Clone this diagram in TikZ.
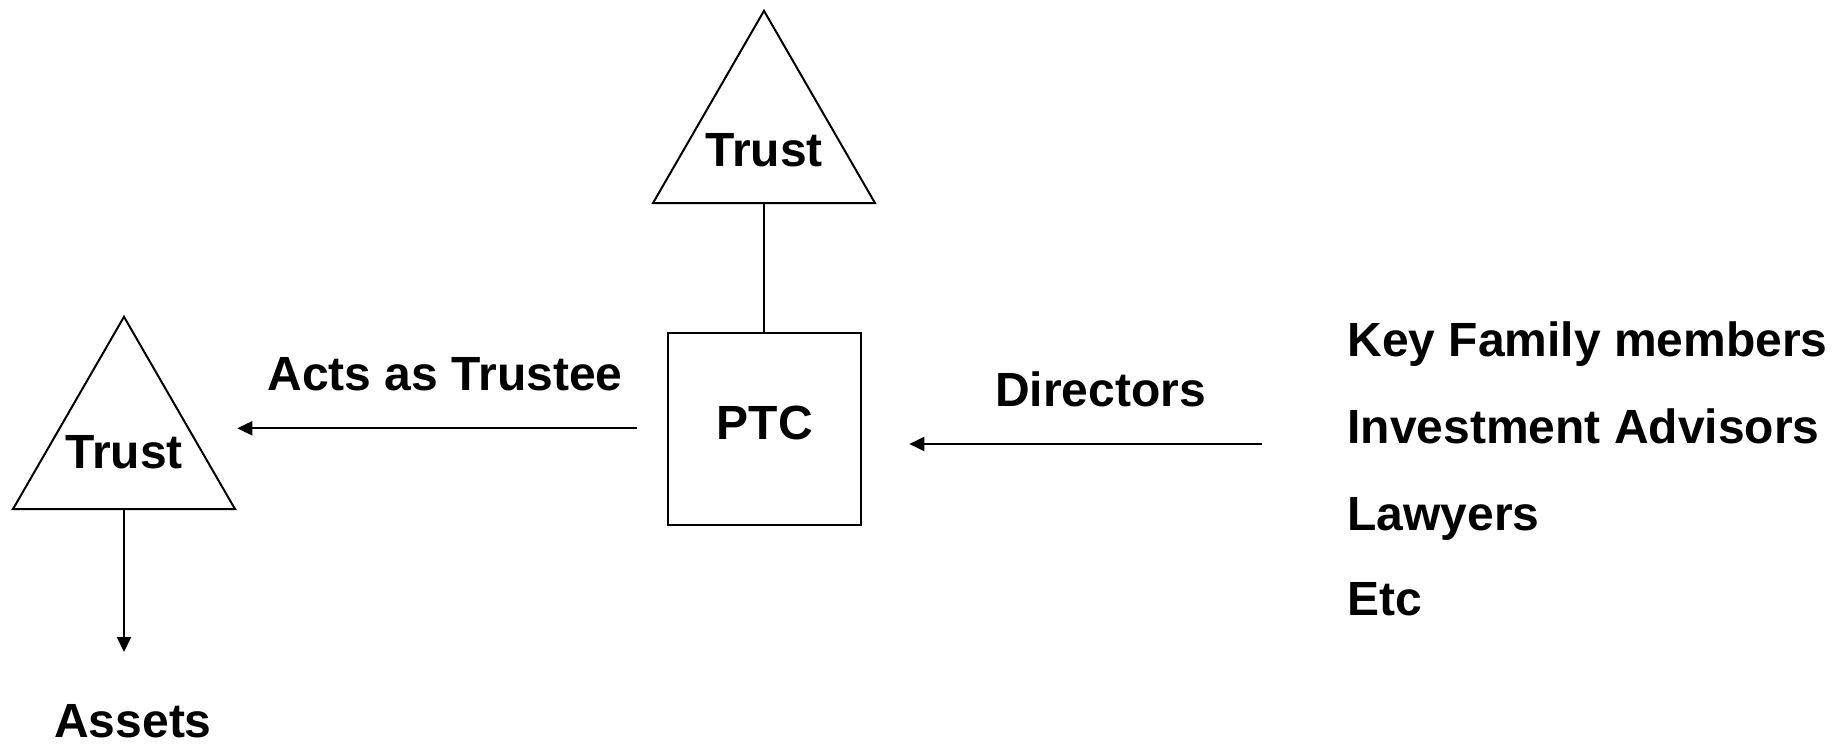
\documentclass[tikz,border=0pt]{standalone}
\usepackage{fontspec}
\setmainfont{Liberation Sans}
\usetikzlibrary{shapes.geometric,arrows.meta}
\begin{document}
\begin{tikzpicture}[x=1pt,y=-1pt,
  line width=2pt,
  lbl/.style={font=\fontsize{48}{58}\selectfont\bfseries, inner sep=0pt, anchor=base},
  listlbl/.style={lbl, anchor=base west},
  trustshape/.style={draw, regular polygon, regular polygon sides=3, minimum size=256.4pt, inner sep=0pt, outer sep=0pt},
  boxshape/.style={draw, rectangle, minimum width=193pt, minimum height=192pt, inner sep=0pt, outer sep=0pt},
  arr/.style={-{Triangle[length=15pt,width=14pt]}}
]
\useasboundingbox (0,0) rectangle (1832,744);

% trusts and the company
\node[trustshape] (trustTop) at (764,139) {};
\node[trustshape] (trustLeft) at (124,445) {};
\node[boxshape] (ptc) at (764,428.8) {};

\node[lbl] (trustTopTxt) at (764,166.7) {Trust};
\node[lbl] (trustLeftTxt) at (124,468) {Trust};
\node[lbl] (ptcTxt) at (764.7,439) {PTC};

% labels
\node[lbl] (actsTxt) at (445,390) {Acts as Trustee};
\node[lbl] (dirTxt) at (1100.6,406.6) {Directors};
\node[lbl] (assetsTxt) at (133,737) {Assets};

\node[listlbl] (fam) at (1346.5,356.7) {Key Family members};
\node[listlbl] (inv) at (1346.5,443.3) {Investment Advisors};
\node[listlbl] (law) at (1346.5,530) {Lawyers};
\node[listlbl] (etc) at (1346.5,615) {Etc};

% connector end points
\coordinate (actsFrom) at (637.3,428.3);
\coordinate (actsTo) at (237.3,428.3);
\coordinate (dirFrom) at (1261.7,444);
\coordinate (dirTo) at (909.3,444);
\coordinate (assetsTo) at (124,652);

% connectors
\draw (trustTop.south) -- (ptc.north);
\draw[arr] (actsFrom) -- (actsTo);
\draw[arr] (dirFrom) -- (dirTo);
\draw[arr] (trustLeft.south) -- (assetsTo);
\end{tikzpicture}
\end{document}
